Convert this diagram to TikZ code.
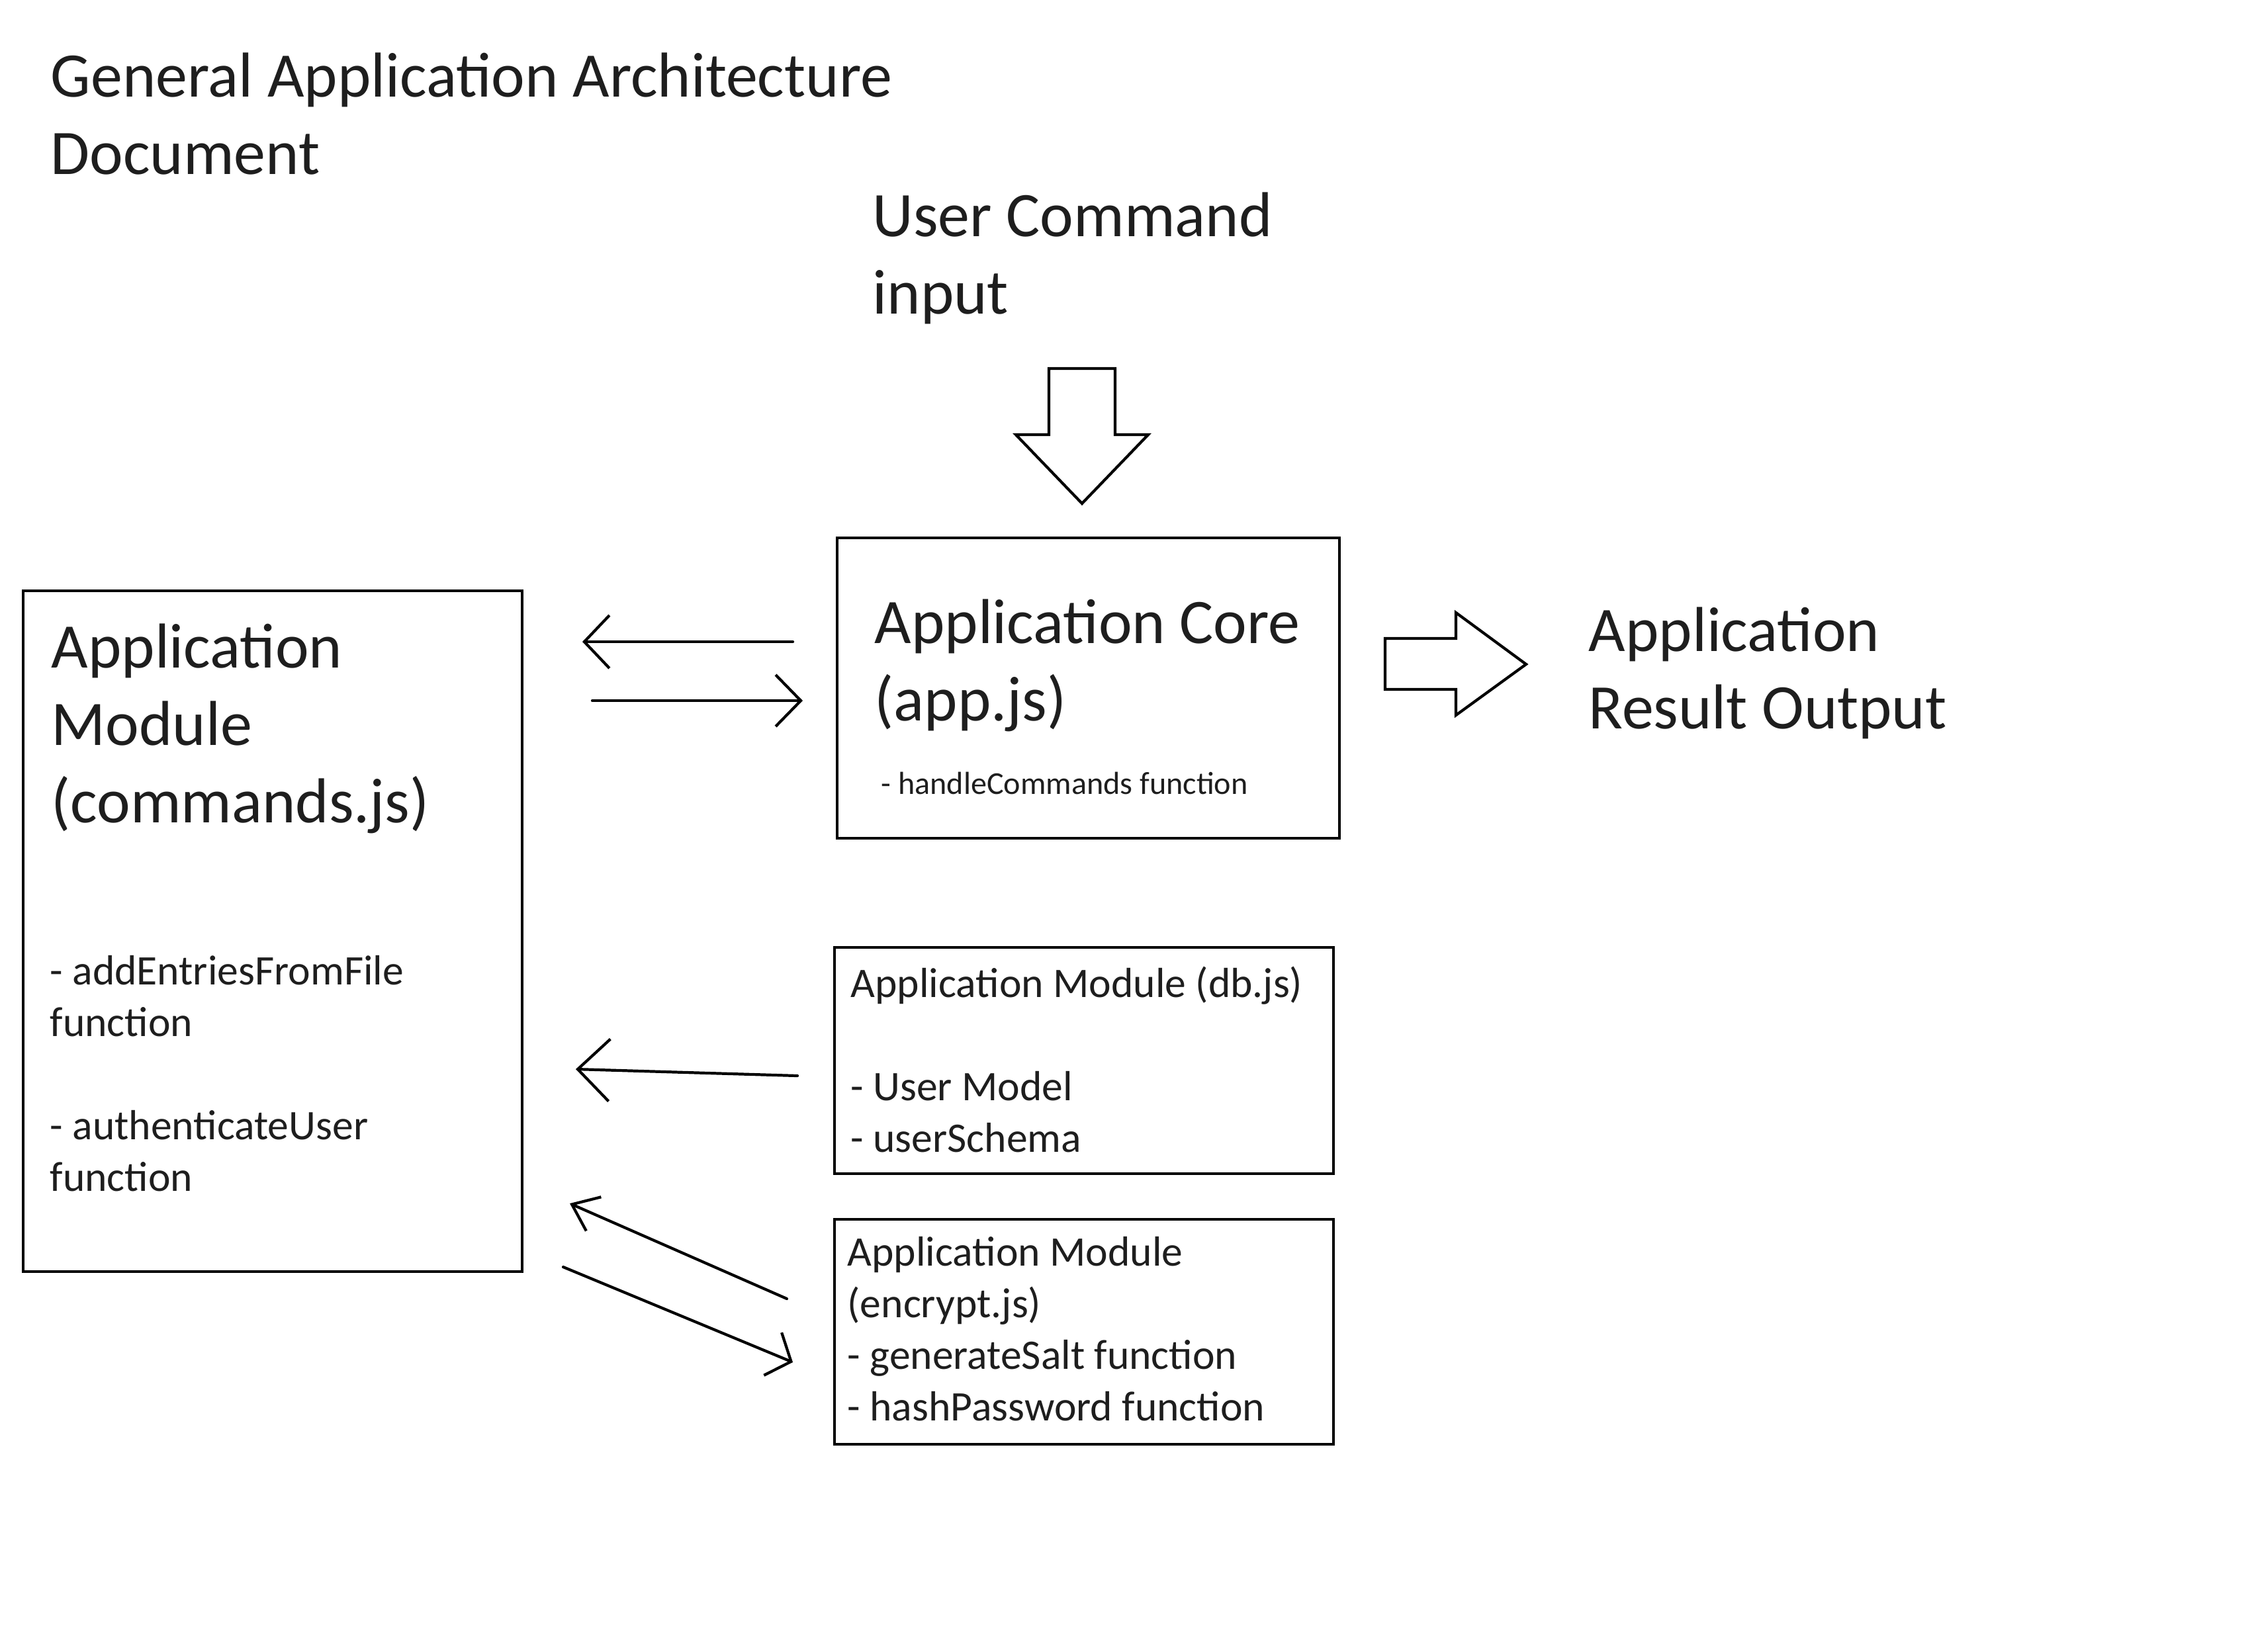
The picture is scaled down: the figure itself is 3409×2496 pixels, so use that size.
\documentclass[tikz,border=0pt]{standalone}
\usepackage{fontspec}
\setmainfont{Carlito}
\usetikzlibrary{arrows.meta}
\definecolor{ink}{RGB}{30,30,30}
\newcommand\textlines[1]{\vtop{\halign{##\hfil\cr#1\crcr}}}
\tikzset{
  bigtext/.style={anchor=base west, inner sep=0pt, text=ink, font=\fontsize{27.3}{33.3}\selectfont},
  midtext/.style={anchor=base west, inner sep=0pt, text=ink, font=\fontsize{18.1}{22.2}\selectfont},
  smalltext/.style={anchor=base west, inner sep=0pt, text=ink, font=\fontsize{13.7}{16.5}\selectfont},
  box/.style={draw, line width=1.2pt, anchor=north west, inner sep=0pt},
  conn/.style={line width=1.2pt, line cap=round},
  blockarrow/.style={draw, line width=1.2pt, line join=miter, fill=white},
}
\begin{document}
\begin{tikzpicture}[x=0.1mm, y=-0.1mm]
\useasboundingbox (0,0) rectangle (3409,2496);

% boxes
\node[box, minimum width=75.4mm, minimum height=102.9mm] (cmd) at (33,891) {};
\node[box, minimum width=75.9mm, minimum height=45.4mm] (core) at (1263,811) {};
\node[box, minimum width=75.4mm, minimum height=34.2mm] (db) at (1259,1430) {};
\node[box, minimum width=75.4mm, minimum height=34.0mm] (enc) at (1259,1841) {};

% texts
\node[bigtext] (title) at (76,146) {\textlines{General Application Architecture\cr Document}};
\node[bigtext] (input) at (1318,357) {\textlines{User Command\cr input}};
\node[bigtext] (output) at (2400,984) {\textlines{Application\cr Result Output}};
\node[bigtext] (cmdtitle) at (77,1009) {\textlines{Application\cr Module\cr (commands.js)}};
\node[midtext] (cmditems) at (75,1488) {\textlines{- addEntriesFromFile\cr function\cr\cr - authenticateUser\cr function}};
\node[bigtext] (coretitle) at (1321,972) {\textlines{Application Core\cr (app.js)}};
\node[smalltext] (coreitem) at (1331,1200) {- handleCommands function};
\node[midtext] (dbtext) at (1285,1507) {\textlines{Application Module (db.js)\cr\cr - User Model\cr - userSchema}};
\node[midtext] (enctext) at (1280,1913) {\textlines{Application Module\cr (encrypt.js)\cr - generateSalt function\cr - hashPassword function}};

% block arrows
\draw[blockarrow] (1585,557) -- (1685,557) -- (1685,657) -- (1735,657) -- (1635,761) -- (1535,657) -- (1585,657) -- cycle;
\draw[blockarrow] (2093,965) -- (2200,965) -- (2200,926) -- (2306,1004) -- (2200,1081) -- (2200,1042) -- (2093,1042) -- cycle;

% connector end points
\coordinate (a1s) at (1198,970);  \coordinate (a1e) at (880,970);
\coordinate (a2s) at (895,1059);  \coordinate (a2e) at (1213,1059);
\coordinate (a3s) at (1205,1626); \coordinate (a3e) at (870,1616);
\coordinate (a4s) at (1189,1963); \coordinate (a4e) at (861,1819);
\coordinate (a5s) at (851,1915);  \coordinate (a5e) at (1198,2059);

\draw[conn, -{Straight Barb[length=3.8mm,width=8mm]}] (a1s) -- (a1e);
\draw[conn, -{Straight Barb[length=3.8mm,width=7.8mm]}] (a2s) -- (a2e);
\draw[conn, -{Straight Barb[length=4.8mm,width=9.4mm]}] (a3s) -- (a3e);
\draw[conn, -{Straight Barb[length=3.6mm,width=5.6mm]}] (a4s) -- (a4e);
\draw[conn, -{Straight Barb[length=3mm,width=7mm]}] (a5s) -- (a5e);
\end{tikzpicture}
\end{document}
